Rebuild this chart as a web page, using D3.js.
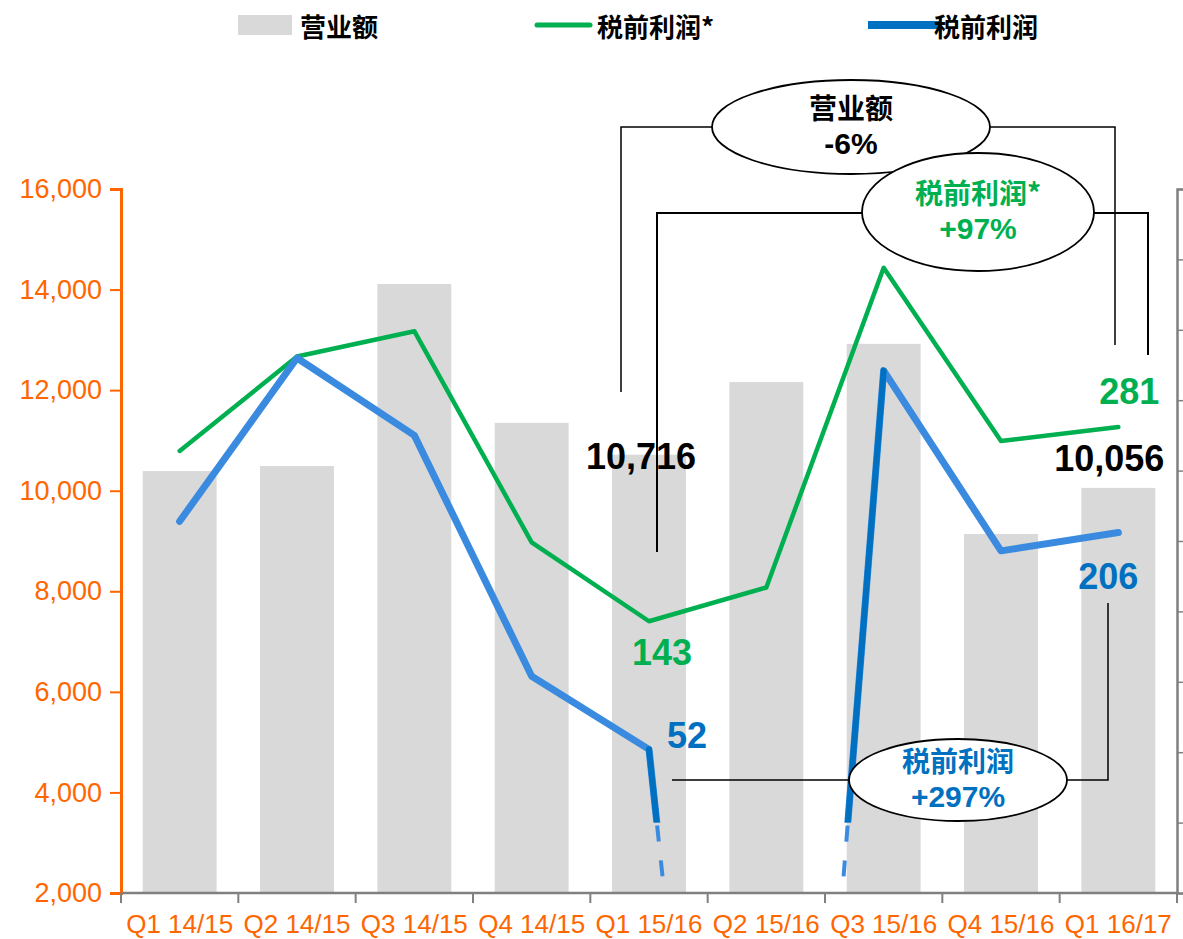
<!DOCTYPE html>
<html>
<head>
<meta charset="utf-8">
<script src="https://cdn.jsdelivr.net/npm/d3@7"></script>
<style>
  body { margin: 0; background: #fff; }
  text { font-family: "Liberation Sans", Arial, sans-serif; }
  .cjk { font-family: "Noto Sans CJK SC", "Liberation Sans", sans-serif; }
</style>
</head>
<body>
<div id="container"></div>
<script>
/* CONSTANTS AND GLOBALS */
const width = 1183,
  height = 939,
  margin = { top: 189, bottom: 46, left: 121, right: 6 };

const orange = "#FF6600",
  green = "#00B050",
  blueLight = "#3A8BDF",
  blueDark = "#0070C0",
  barGray = "#D9D9D9",
  axisGray = "#808080";

/* DATA */
const quarters = ["Q1 14/15", "Q2 14/15", "Q3 14/15", "Q4 14/15", "Q1 15/16",
  "Q2 15/16", "Q3 15/16", "Q4 15/16", "Q1 16/17"];
// 营业额 (left axis)
const revenue = [10390, 10490, 14110, 11350, 10716, 12160, 12920, 9140, 10056];
// 税前利润* (right axis)
const ebtAdj = [264, 331, 349, 199, 143, 167, 394, 271, 281];
// 税前利润 (right axis) - Q2 15/16 falls far below the chart
const ebt = [214, 330, 275, 104, 52, -730, 321, 193, 206];
const leftTicks = [2000, 4000, 6000, 8000, 10000, 12000, 14000, 16000];
const rightTicks = [-50, 0, 50, 100, 150, 200, 250, 300, 350, 400, 450];

/* SCALES */
const xScale = d3.scaleBand()
  .domain(quarters)
  .range([margin.left, width - margin.right]);
const step = xScale.bandwidth();
const cx = q => xScale(q) + step / 2;

const yLeft = d3.scaleLinear()
  .domain([2000, 16000])
  .range([height - margin.bottom, margin.top]);

const yRight = d3.scaleLinear()
  .domain([-50, 450])
  .range([height - margin.bottom, margin.top]);

const svg = d3.select("#container")
  .append("svg")
  .attr("width", width)
  .attr("height", height);

const defs = svg.append("defs");
defs.append("clipPath").attr("id", "above")
  .append("rect")
  .attr("x", margin.left).attr("y", 0)
  .attr("width", width - margin.left - margin.right)
  .attr("height", yRight(0));
defs.append("clipPath").attr("id", "below")
  .append("rect")
  .attr("x", margin.left).attr("y", yRight(0))
  .attr("width", width - margin.left - margin.right)
  .attr("height", yRight(-40) - yRight(0));

/* BARS */
const barW = step * 0.63;
svg.append("g")
  .selectAll("rect")
  .data(quarters)
  .join("rect")
  .attr("x", d => cx(d) - barW / 2)
  .attr("y", (d, i) => yLeft(revenue[i]))
  .attr("width", barW)
  .attr("height", (d, i) => yLeft(2000) - yLeft(revenue[i]))
  .attr("fill", barGray);

/* AXES */
const leftAxis = svg.append("g")
  .attr("transform", `translate(${margin.left},0)`)
  .call(d3.axisLeft(yLeft).tickValues(leftTicks).tickSize(11).tickPadding(8)
    .tickFormat(d3.format(",")));
leftAxis.select(".domain").attr("stroke", orange).attr("stroke-width", 3);
leftAxis.selectAll(".tick line").attr("stroke", orange).attr("stroke-width", 2);
leftAxis.selectAll(".tick text").attr("fill", orange).attr("font-size", 27)
  .attr("font-family", "Liberation Sans, Arial, sans-serif");

const rightAxis = svg.append("g")
  .attr("transform", `translate(${width - margin.right},0)`)
  .call(d3.axisRight(yRight).tickValues(rightTicks).tickSize(7).tickFormat(""));
rightAxis.select(".domain").attr("stroke", axisGray).attr("stroke-width", 2.5);
rightAxis.selectAll(".tick line").attr("stroke", axisGray).attr("stroke-width", 1.5);

// x axis: line + ticks at band edges + labels
const xBase = yLeft(2000);
svg.append("line")
  .attr("x1", margin.left).attr("x2", width - margin.right)
  .attr("y1", xBase).attr("y2", xBase)
  .attr("stroke", axisGray).attr("stroke-width", 2.5);
svg.append("g")
  .selectAll("line")
  .data(quarters.concat(["end"]))
  .join("line")
  .attr("x1", (d, i) => margin.left + i * step)
  .attr("x2", (d, i) => margin.left + i * step)
  .attr("y1", xBase).attr("y2", xBase + 10)
  .attr("stroke", axisGray).attr("stroke-width", 2);
svg.append("g")
  .selectAll("text")
  .data(quarters)
  .join("text")
  .attr("x", d => cx(d))
  .attr("y", xBase + 31)
  .attr("text-anchor", "middle")
  .attr("dominant-baseline", "central")
  .attr("font-size", 26)
  .attr("fill", orange)
  .text(d => d);

/* LINES */
const line = d3.line()
  .x((d, i) => cx(quarters[i]))
  .y(d => yRight(d));

svg.append("path")
  .attr("d", line(ebtAdj))
  .attr("fill", "none")
  .attr("stroke", green)
  .attr("stroke-width", 4.5)
  .attr("stroke-linecap", "round")
  .attr("stroke-linejoin", "round");

// blue line, only the part above zero
svg.append("path")
  .attr("d", line(ebt))
  .attr("clip-path", "url(#above)")
  .attr("fill", "none")
  .attr("stroke", blueLight)
  .attr("stroke-width", 7)
  .attr("stroke-linecap", "round")
  .attr("stroke-linejoin", "round");

// segments into and out of the gap quarter
const gapIdx = 5;
const pt = i => [cx(quarters[i]), yRight(ebt[i])];
const crossing = (a, b) => {
  const t = (yRight(0) - a[1]) / (b[1] - a[1]);
  return [a[0] + t * (b[0] - a[0]), yRight(0)];
};
[[gapIdx - 1, gapIdx], [gapIdx + 1, gapIdx]].forEach(([from, to]) => {
  const a = pt(from), b = pt(to);
  svg.append("path")
    .attr("d", d3.line()([a, b]))
    .attr("clip-path", "url(#above)")
    .attr("fill", "none")
    .attr("stroke", blueDark)
    .attr("stroke-width", 6)
    .attr("stroke-linecap", "round");
  const c = crossing(a, b);
  svg.append("path")
    .attr("d", d3.line()([c, b]))
    .attr("clip-path", "url(#below)")
    .attr("fill", "none")
    .attr("stroke", blueLight)
    .attr("stroke-width", 4)
    .attr("stroke-dasharray", "16 19")
    .attr("stroke-dashoffset", 32);
});

/* VALUE LABELS */
const valueLabels = [
  { text: d3.format(",")(revenue[4]), x: cx(quarters[4]) - 8, y: yLeft(revenue[4]) + 2, color: "#000" },
  { text: d3.format(",")(revenue[8]), x: cx(quarters[8]) - 9, y: yLeft(revenue[8]) - 29, color: "#000" },
  { text: ebtAdj[4], x: cx(quarters[4]) + 13, y: yRight(ebtAdj[4]) + 31, color: green },
  { text: ebtAdj[8], x: cx(quarters[8]) + 11, y: yRight(ebtAdj[8]) - 35, color: green },
  { text: ebt[4], x: cx(quarters[4]) + 38, y: yRight(ebt[4]) - 14, color: blueDark },
  { text: ebt[8], x: cx(quarters[8]) - 10, y: yRight(ebt[8]) + 44, color: blueDark }
];
svg.append("g")
  .selectAll("text")
  .data(valueLabels)
  .join("text")
  .attr("x", d => d.x)
  .attr("y", d => d.y)
  .attr("text-anchor", "middle")
  .attr("dominant-baseline", "central")
  .attr("font-size", 36)
  .attr("font-weight", "bold")
  .attr("fill", d => d.color)
  .text(d => d.text);

/* CHANGE CALLOUTS */
const brackets = [
  { d: "M621,392V127H713M990,127H1115V345", w: 1.5 },
  { d: "M657,552V213H862M1094,213H1148V355", w: 2 },
  { d: "M672,780H850M1067,780H1108V603", w: 1.5 }
];
svg.append("g")
  .selectAll("path")
  .data(brackets)
  .join("path")
  .attr("d", d => d.d)
  .attr("fill", "none")
  .attr("stroke", "#000")
  .attr("stroke-width", d => d.w);

const callouts = [
  { cx: 851, cy: 127, rx: 139, ry: 47, lines: ["营业额", "-6%"], color: "#000" },
  { cx: 978, cy: 212, rx: 116, ry: 59, lines: ["税前利润*", "+97%"], color: green },
  { cx: 958, cy: 780, rx: 109, ry: 41, lines: ["税前利润", "+297%"], color: blueDark }
];
const co = svg.append("g")
  .selectAll("g")
  .data(callouts)
  .join("g");
co.append("ellipse")
  .attr("cx", d => d.cx).attr("cy", d => d.cy)
  .attr("rx", d => d.rx).attr("ry", d => d.ry)
  .attr("fill", "#fff")
  .attr("stroke", "#000")
  .attr("stroke-width", 1.8);
co.append("text")
  .attr("class", "cjk")
  .attr("x", d => d.cx).attr("y", d => d.cy - 20)
  .attr("text-anchor", "middle")
  .attr("dominant-baseline", "central")
  .attr("font-size", 28)
  .attr("font-weight", "bold")
  .attr("fill", d => d.color)
  .text(d => d.lines[0]);
co.append("text")
  .attr("x", d => d.cx).attr("y", d => d.cy + 16)
  .attr("text-anchor", "middle")
  .attr("dominant-baseline", "central")
  .attr("font-size", 30)
  .attr("font-weight", "bold")
  .attr("fill", d => d.color)
  .text(d => d.lines[1]);

/* LEGEND */
const legend = svg.append("g");
legend.append("rect")
  .attr("x", 238).attr("y", 15).attr("width", 54).attr("height", 20)
  .attr("fill", barGray);
legend.append("line")
  .attr("x1", 537).attr("x2", 590).attr("y1", 25).attr("y2", 25)
  .attr("stroke", green).attr("stroke-width", 5).attr("stroke-linecap", "round");
legend.append("line")
  .attr("x1", 868).attr("x2", 940).attr("y1", 25).attr("y2", 25)
  .attr("stroke", blueDark).attr("stroke-width", 8);
const legendItems = [
  { x: 300, text: "营业额" },
  { x: 597, text: "税前利润*" },
  { x: 934, text: "税前利润" }
];
legend.selectAll("text")
  .data(legendItems)
  .join("text")
  .attr("class", "cjk")
  .attr("x", d => d.x)
  .attr("y", 25)
  .attr("dominant-baseline", "central")
  .attr("font-size", 26)
  .attr("font-weight", "bold")
  .attr("fill", "#000")
  .text(d => d.text);
</script>
</body>
</html>
